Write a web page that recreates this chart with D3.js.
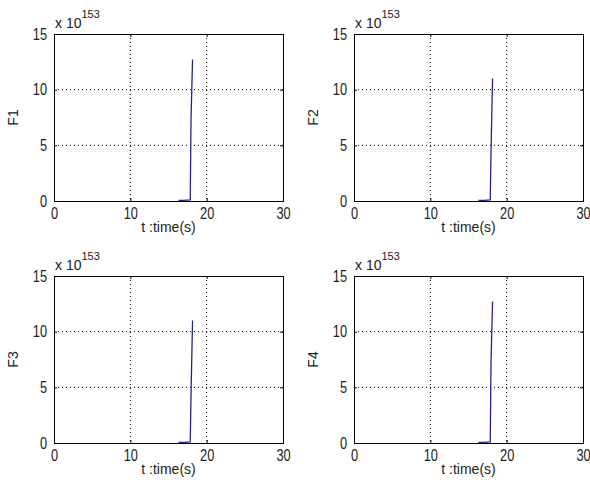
<!DOCTYPE html>
<html>
<head>
<meta charset="utf-8">
<script src="https://cdn.jsdelivr.net/npm/d3@7"></script>
<style>
  body { margin: 0; background: #fff; }
  svg text { font-family: "Liberation Sans", Arial, sans-serif; fill: #222; }
</style>
</head>
<body>
<svg width="590" height="489"></svg>
<script>
// Dados (valores em unidades de 10^153).
const tempo = [16.3, 17.0, 17.85, 17.95, 18.15];
const F1 = [0.05, 0.05, 0.1, 7.3, 12.7];
const F2 = [0.05, 0.05, 0.1, 4.4, 11.0];
const F3 = [0.05, 0.05, 0.1, 4.3, 11.0];
const F4 = [0.05, 0.05, 0.1, 7.3, 12.7];
const nomes = ["F1", "F2", "F3", "F4"];
const xTicks = [0, 10, 20, 30];
const yTicks = [0, 5, 10, 15];

const series = [F1, F2, F3, F4];

// Posição de cada painel.
const paineis = [
    {left: 54, top: 34},
    {left: 354, top: 34},
    {left: 54, top: 276},
    {left: 354, top: 276}
];
const width = 229;
const height = 167;
const escala = 0.8; // fonte estreita dos números

const svg = d3.select("svg");

paineis.forEach((p, i) => {
    const g = svg.append("g").attr("transform", `translate(${p.left}, ${p.top})`);

    const xScale = d3.scaleLinear().domain([0, 30]).range([0, width]);
    const yScale = d3.scaleLinear().domain([0, 15]).range([height, 0]);

    // Grade pontilhada.
    g.selectAll(".gx")
        .data(xTicks.slice(1, -1))
        .enter().append("line")
        .attr("x1", d => xScale(d)).attr("x2", d => xScale(d))
        .attr("y1", 0).attr("y2", height)
        .attr("stroke", "#000").attr("stroke-width", 1)
        .attr("stroke-dasharray", "1,3");
    g.selectAll(".gy")
        .data(yTicks.slice(1, -1))
        .enter().append("line")
        .attr("y1", d => yScale(d)).attr("y2", d => yScale(d))
        .attr("x1", 0).attr("x2", width)
        .attr("stroke", "#000").attr("stroke-width", 1)
        .attr("stroke-dasharray", "1,3");

    // Linha da série.
    const linha = d3.line()
        .x((d, j) => xScale(tempo[j]))
        .y(d => yScale(d));
    g.append("path")
        .datum(series[i])
        .attr("d", linha)
        .attr("fill", "none")
        .attr("stroke", "#24248c")
        .attr("stroke-width", 1.3);

    // Eixos (ticks para dentro, como no MATLAB).
    const xAxis = d3.axisBottom(xScale).tickValues(xTicks).tickSize(-3).tickPadding(7);
    const yAxis = d3.axisLeft(yScale).tickValues(yTicks).tickSize(-3).tickPadding(7);
    const xTop = d3.axisTop(xScale).tickValues(xTicks).tickSize(-3).tickFormat("");
    const yRight = d3.axisRight(yScale).tickValues(yTicks).tickSize(-3).tickFormat("");

    const gx = g.append("g").attr("transform", `translate(0, ${height})`).call(xAxis);
    const gy = g.append("g").call(yAxis);
    g.append("g").call(xTop);
    g.append("g").attr("transform", `translate(${width}, 0)`).call(yRight);

    g.selectAll(".domain").attr("stroke", "#000");
    g.selectAll(".tick line").attr("stroke", "#000");
    g.selectAll(".tick text").attr("font-size", 16).attr("fill", "#222")
        .style("font-family", "'Liberation Sans', Arial, sans-serif");
    gx.selectAll(".tick text").attr("transform", `scale(${escala},1)`);
    gy.selectAll(".tick text")
        .attr("x", -7 / escala)
        .attr("transform", `scale(${escala},1)`);

    // Rótulos.
    g.append("text")
        .attr("x", width / 2)
        .attr("y", height + 31)
        .attr("text-anchor", "middle")
        .attr("font-size", 14)
        .text("t :time(s)");

    g.append("text")
        .attr("transform", `translate(-36, ${height / 2}) rotate(-90)`)
        .attr("text-anchor", "middle")
        .attr("font-size", 14)
        .text(nomes[i]);

    const expo = g.append("text")
        .attr("x", 1)
        .attr("y", -6)
        .attr("font-size", 14);
    expo.append("tspan").text("x 10");
    expo.append("tspan").attr("dy", -10).attr("font-size", 11).text("153");
});
</script>
</body>
</html>
